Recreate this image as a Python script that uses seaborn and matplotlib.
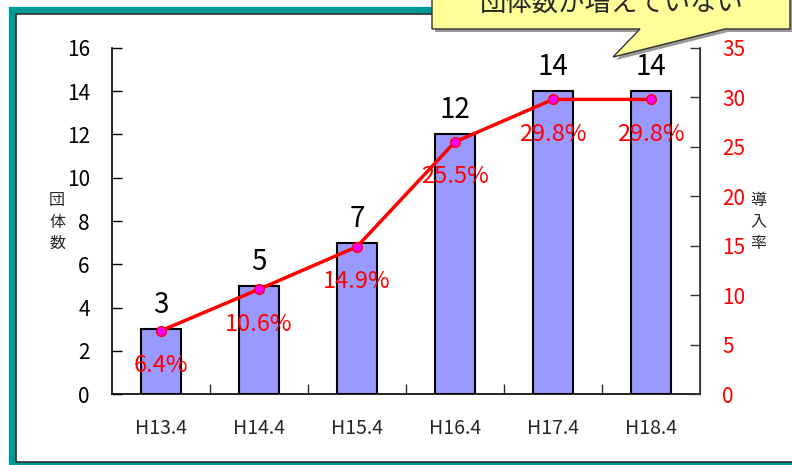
import matplotlib
matplotlib.use('Agg')
import matplotlib.pyplot as plt
import seaborn as sns
import numpy as np
import pandas as pd
from matplotlib.patches import Rectangle, Polygon

# data
years = ['H13.4', 'H14.4', 'H15.4', 'H16.4', 'H17.4', 'H18.4']
counts = [3, 5, 7, 12, 14, 14]
rates = [6.4, 10.6, 14.9, 25.5, 29.8, 29.8]
left_ticks = [0, 2, 4, 6, 8, 10, 12, 14, 16]
right_ticks = [0, 5, 10, 15, 20, 25, 30, 35]

sns.set_style('white')
plt.rcParams['font.family'] = ['Noto Sans CJK JP', 'DejaVu Sans']

W, H = 792, 465
fig = plt.figure(figsize=(W / 100, H / 100), dpi=100)
fig.patch.set_facecolor('white')

def fx(px):
    return px / W

def fy(py):
    return 1 - py / H

ax = fig.add_axes([fx(112), fy(394), fx(700) - fx(112), fy(48) - fy(394)])
df = pd.DataFrame({'year': years, 'count': counts})
sns.barplot(data=df, x='year', y='count', color='#9999FF', width=0.4,
            edgecolor='black', linewidth=1.5, saturation=1, ax=ax)
ax.set_xlim(-0.5, 5.5)
ax.set_ylim(0, 16)
ax.set_yticks(left_ticks)
ax.set_xlabel('')
ax.set_ylabel('')
ax.tick_params(axis='y', direction='in', length=7, width=1, pad=16,
               labelsize=15, colors='black', left=True)
ax.tick_params(axis='x', which='major', length=0, pad=17, labelsize=14)
ax.set_xticks(np.arange(0.5, 5, 1), minor=True)
ax.tick_params(axis='x', which='minor', direction='in', length=7, width=1,
               bottom=True)
ax.spines['top'].set_visible(False)
ax.spines['left'].set_color('black')
ax.spines['bottom'].set_color('black')
ax.spines['left'].set_linewidth(1.2)
ax.spines['bottom'].set_linewidth(1.2)

for i, c in enumerate(counts):
    ax.annotate(str(c), (i, c), xytext=(0, 24), textcoords='offset pixels',
                ha='center', va='center', fontsize=20, color='black')

ax2 = ax.twinx()
sns.lineplot(x=np.arange(len(rates)), y=rates, ax=ax2, color='red',
             linewidth=2.5, marker='o', markersize=7,
             markerfacecolor='#FF00FF', markeredgecolor='red',
             markeredgewidth=1)
ax2.set_ylim(0, 35)
ax2.set_yticks(right_ticks)
ax2.tick_params(axis='y', direction='in', length=7, width=1, pad=16,
                labelsize=15, colors='#333333', right=True)
for lab in ax2.get_yticklabels():
    lab.set_color('red')
ax2.spines['top'].set_visible(False)
ax2.spines['right'].set_color('#333333')
ax2.spines['right'].set_linewidth(1.2)
ax2.spines['left'].set_visible(False)
ax2.spines['bottom'].set_visible(False)

for i, r in enumerate(rates):
    ax2.annotate(f'{r}%', (i, r), xytext=(0, -35), textcoords='offset pixels',
                 ha='center', va='center', fontsize=17, color='red')

fig.text(fx(57), fy(222), '団\n体\n数', ha='center', va='center',
         fontsize=11.5, linespacing=1.35)
fig.text(fx(758), fy(222), '導\n入\n率', ha='center', va='center',
         fontsize=11.5, linespacing=1.35)

# frame
fig.patches.append(Rectangle((fx(11.5), fy(465.5)), fx(820) - fx(11.5),
                             fy(10.5) - fy(465.5), transform=fig.transFigure,
                             fill=False, edgecolor='#009999', linewidth=5.2,
                             zorder=5))
fig.patches.append(Rectangle((fx(15.5), fy(461.5)), fx(820) - fx(15.5),
                             fy(14.5) - fy(461.5), transform=fig.transFigure,
                             fill=False, edgecolor='#333333', linewidth=1.2,
                             zorder=5))

# callout
pts = [(432, -30), (790, -30), (790, 29), (725, 29), (613, 57), (640, 29),
       (432, 29)]
shadow = [(fx(x + 3), fy(y + 3)) for x, y in pts]
fig.patches.append(Polygon(shadow, closed=True, transform=fig.transFigure,
                           facecolor='#999999', edgecolor='none', zorder=6))
fig.patches.append(Polygon([(fx(x), fy(y)) for x, y in pts], closed=True,
                           transform=fig.transFigure, facecolor='#FFFF99',
                           edgecolor='#333333', linewidth=1, zorder=7))
fig.text(fx(612), fy(3), '団体数が増えていない', ha='center', va='center',
         fontsize=19, zorder=8)

fig.savefig('out.png', dpi=100)
